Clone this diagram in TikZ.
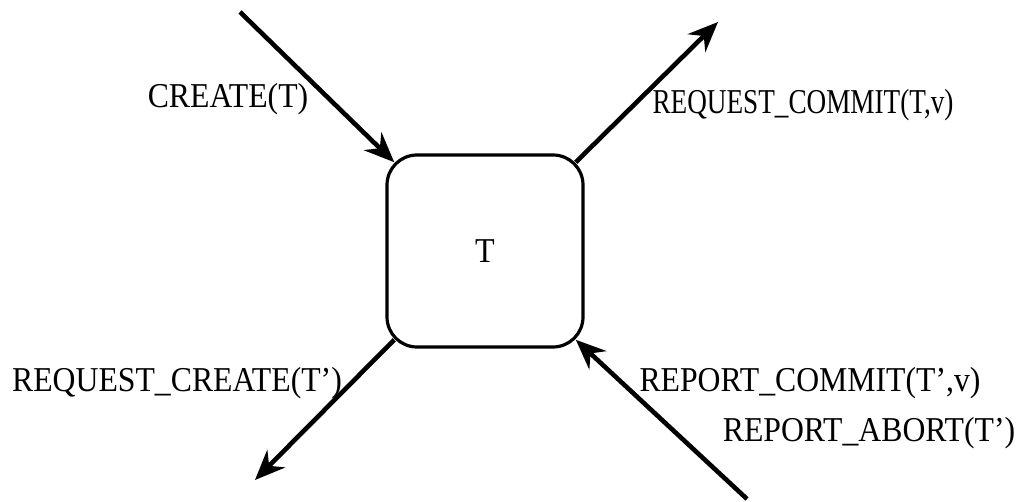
\documentclass[tikz,border=0pt]{standalone}
\usepackage{fontspec}
\usepackage{graphicx}
\setmainfont{Liberation Serif}
\usetikzlibrary{arrows.meta,calc}
\newcommand{\squeezed}[2]{\scalebox{#1}[1]{#2}}
\begin{document}
\begin{tikzpicture}[x=1bp,y=1bp,
  proc/.style={draw,line width=3.2bp,rounded corners=30bp,minimum width=196bp,minimum height=192bp,inner sep=0pt,font=\fontsize{35}{40}\selectfont},
  lbl/.style={font=\fontsize{35}{40}\selectfont,inner sep=0pt},
  conn/.style={line width=4.6bp,-{Stealth[length=30bp,width=25bp,inset=10bp]}}]
\useasboundingbox (0,0) rectangle (1030,502);
\node[proc] (box) at (485,251) {\squeezed{0.92}{T}};
\coordinate (nw) at ($(box.north west)+(8.8,-8.8)$);
\coordinate (ne) at ($(box.north east)+(-8.8,-8.8)$);
\coordinate (sw) at ($(box.south west)+(8.8,8.8)$);
\coordinate (se) at ($(box.south east)+(-8.8,8.8)$);
\coordinate (inA) at (240,490);
\coordinate (outB) at (718,480);
\coordinate (outC) at (255,22);
\coordinate (inD) at (747,3);
\draw[conn] (inA) -- (nw);
\draw[conn] (ne) -- (outB);
\draw[conn] (sw) -- (outC);
\draw[conn] (inD) -- (se);
\node[lbl] (l1) at (228,403) {\squeezed{0.91}{CREATE(T)}};
\node[lbl] (l2) at (803,397) {\squeezed{0.78}{REQUEST\_COMMIT(T,v)}};
\node[lbl] (l3) at (177,119) {\squeezed{0.91}{REQUEST\_CREATE(T')}};
\node[lbl] (l4) at (810,119) {\squeezed{0.91}{REPORT\_COMMIT(T',v)}};
\node[lbl] (l5) at (869,69) {\squeezed{0.91}{REPORT\_ABORT(T')}};
\end{tikzpicture}
\end{document}
